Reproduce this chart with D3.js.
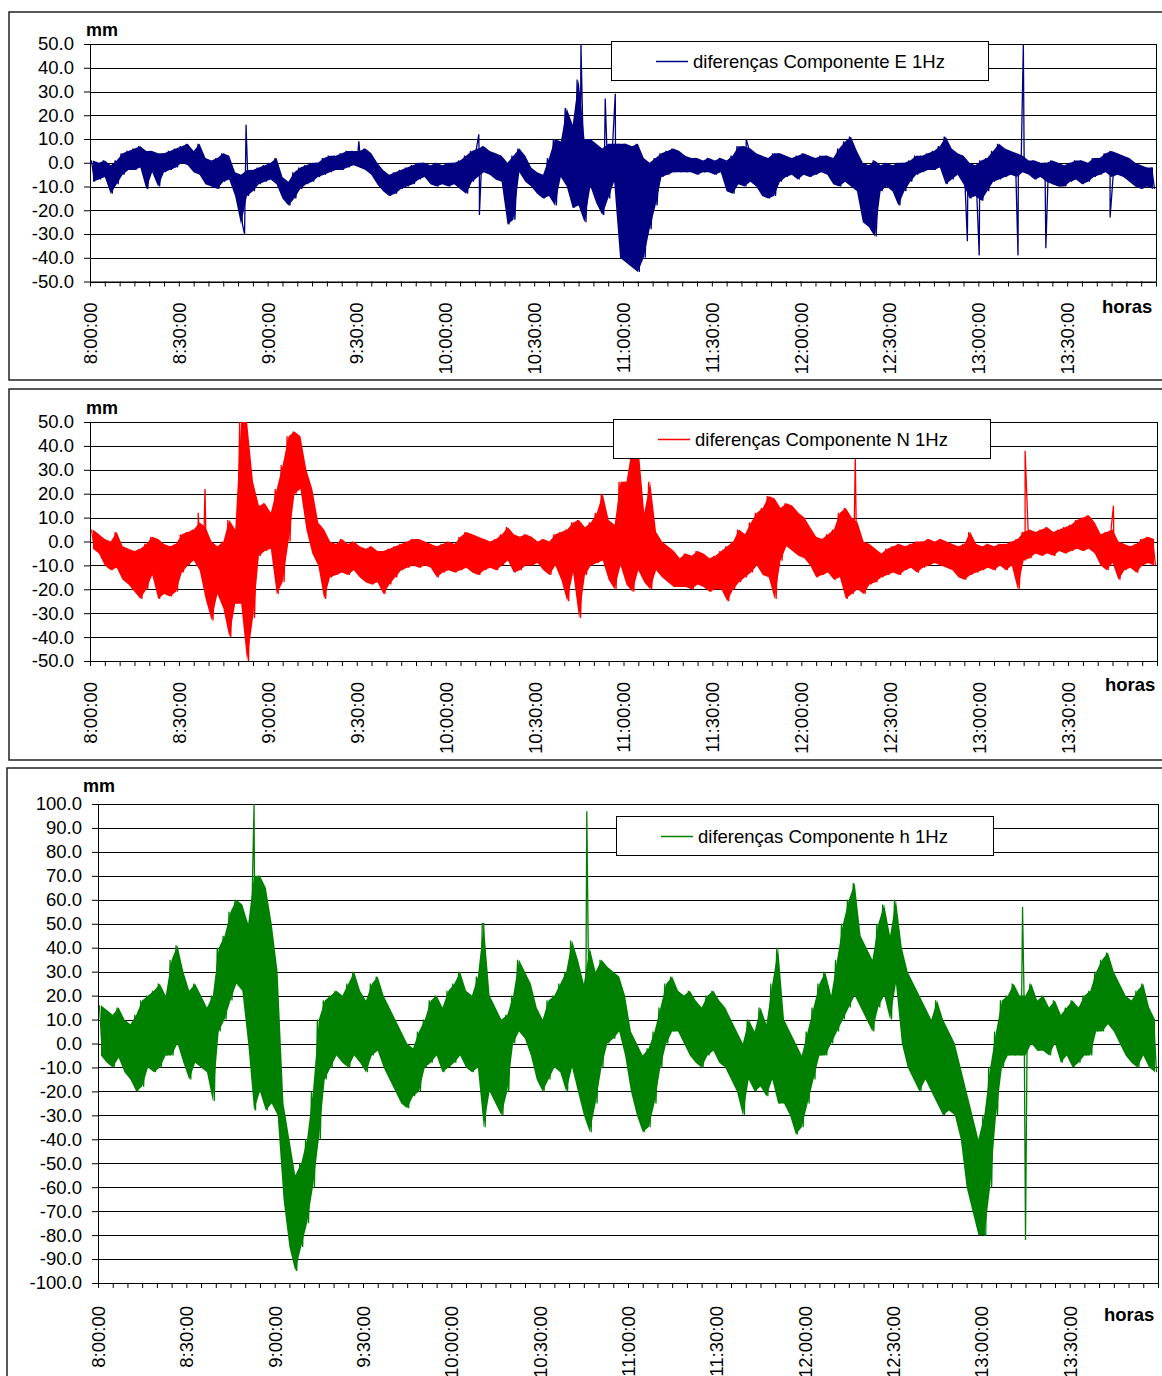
<!DOCTYPE html>
<html lang="pt">
<head>
<meta charset="utf-8">
<title>diferenças 1Hz</title>
<script src="https://cdn.jsdelivr.net/npm/d3@7"></script>
<style>
  body { margin: 0; background: #fff; }
  svg text { font-family: "Liberation Sans", Arial, sans-serif; }
</style>
</head>
<body>
<div id="chart"></div>
<script>
// each series is read off the plot as an envelope: high and low value per 2 minute bin,
// starting at 8:00:00, plus isolated spikes as [minute after 8:00, value]
var binMin = 2;

// Componente E (mm)
var eHigh = [1,0,1,-1,1,4,5,6,7,5,
  5,4,4,5,6,7,8,5,8,2,
  1,2,4,3,-4,-5,-3,-3,-2,-1,
  0,2,-6,-8,-4,-2,-1,0,0,2,
  3,3,4,5,5,5,6,4,0,-3,
  -5,-4,-3,-2,-1,0,0,-1,0,-1,
  0,0,1,3,5,6,7,5,4,3,
  0,3,6,3,-2,-4,-5,2,10,9,
  23,16,35,10,10,8,6,8,8,8,
  8,7,8,2,0,2,4,5,6,5,
  3,2,2,1,2,1,2,1,3,7,
  7,6,4,3,2,4,4,3,2,3,
  4,3,2,3,3,2,6,9,11,5,
  0,-1,1,-1,0,-1,0,0,1,3,
  3,4,5,7,11,6,4,3,0,-1,
  1,2,5,8,6,5,4,3,1,1,
  0,0,1,0,-1,0,1,1,0,2,
  2,4,5,4,3,2,0,-1,-2,-2];
var eLow = [-8,-7,-6,-13,-9,-5,-3,-3,-2,-11,
  -4,-10,-4,-3,-2,0,-1,-4,-5,-9,
  -10,-11,-8,-7,-14,-26,-14,-12,-9,-8,
  -7,-9,-15,-18,-15,-11,-9,-8,-6,-5,
  -4,-3,-3,-2,-1,-2,-3,-5,-9,-12,
  -14,-13,-11,-10,-9,-7,-6,-9,-10,-9,
  -10,-9,-11,-13,-8,-6,-4,-5,-7,-8,
  -26,-24,-4,-8,-10,-13,-15,-14,-18,-6,
  -10,-19,-18,-25,-10,-17,-22,-15,-8,-40,
  -42,-44,-46,-40,-28,-18,-6,-5,-4,-4,
  -4,-4,-5,-4,-4,-5,-4,-12,-13,-9,
  -10,-8,-10,-14,-15,-14,-8,-6,-5,-7,
  -5,-6,-5,-4,-5,-9,-10,-8,-10,-12,
  -25,-27,-31,-12,-10,-12,-18,-12,-8,-5,
  -4,-3,-3,-2,-9,-7,-5,-9,-15,-14,
  -16,-12,-8,-7,-6,-5,-6,-4,-5,-7,
  -6,-8,-9,-10,-10,-8,-7,-9,-8,-6,
  -5,-4,-6,-5,-6,-8,-10,-11,-10,-11];
var eSpikes = [[52.2,-30],[52.7,16],[90.8,9],[131.3,12],[131.5,-22],[165.8,50],[174,27],[177.4,29],
  [221.6,10],[296.3,-33],[300.3,-39],[313.4,-39],[315.2,50],[322.8,-36],[344.5,-23]];

// Componente N (mm)
var nHigh = [5,3,1,0,4,-2,-3,-4,-3,-1,
  2,1,-1,-2,-1,3,4,5,8,6,
  0,-2,0,9,5,50,50,25,15,16,
  12,22,32,44,46,44,30,22,8,5,
  0,-1,1,-1,0,-2,-3,-2,-4,-4,
  -3,-2,-1,0,1,1,0,-1,-2,-1,
  0,-1,2,4,3,2,1,0,1,3,
  6,3,2,3,2,0,1,0,3,4,
  5,8,9,6,8,12,20,9,7,25,
  25,40,40,12,25,4,0,-2,-4,-7,
  -5,-6,-4,-5,-7,-6,-4,-2,0,5,
  3,8,12,14,19,18,14,16,15,12,
  10,6,2,1,3,5,12,14,10,8,
  0,-1,-3,-5,-3,-2,-1,-2,-1,0,
  0,1,0,1,0,-1,-2,-1,4,-1,
  -2,-1,-2,-1,-1,0,1,4,5,4,
  5,6,4,5,6,7,9,10,11,8,
  3,4,5,0,-1,-2,-1,1,2,1];
var nLow = [-3,-5,-10,-12,-11,-16,-18,-21,-24,-20,
  -14,-24,-22,-23,-21,-13,-10,-8,-12,-24,
  -33,-22,-28,-40,-26,-26,-50,-32,-6,-4,
  -3,-22,-17,0,20,22,5,-5,-10,-24,
  -15,-14,-13,-14,-12,-15,-17,-18,-17,-22,
  -18,-15,-12,-11,-10,-11,-10,-11,-15,-13,
  -12,-13,-12,-11,-13,-14,-12,-11,-12,-10,
  -8,-13,-12,-10,-10,-9,-12,-14,-10,-16,
  -25,-13,-32,-14,-10,-9,-8,-16,-20,-10,
  -18,-21,-12,-17,-20,-12,-15,-17,-19,-19,
  -19,-20,-18,-19,-21,-20,-20,-25,-20,-17,
  -15,-13,-10,-14,-15,-24,-8,-2,-4,-6,
  -7,-10,-15,-14,-13,-16,-15,-24,-22,-20,
  -22,-18,-17,-15,-14,-13,-14,-12,-11,-13,
  -11,-10,-9,-10,-11,-12,-15,-16,-14,-13,
  -12,-11,-12,-10,-12,-10,-20,-8,-7,-5,
  -6,-5,-6,-4,-5,-4,-3,-4,-3,-5,
  -10,-12,-9,-16,-12,-11,-13,-10,-9,-10];
var nSpikes = [[36.5,12],[38.8,22],[258.2,35],[315.5,38],[345.3,15]];

// Componente h (mm)
var hHigh = [16,14,12,15,10,8,12,18,20,22,
  25,20,35,41,30,22,25,20,15,20,
  40,45,55,60,58,50,70,70,65,50,
  30,-25,-40,-55,-50,-40,-20,10,18,20,
  22,20,25,30,22,18,25,28,20,15,
  10,5,0,-2,5,10,18,20,15,22,
  25,30,22,20,28,50,20,15,10,12,
  20,35,30,25,15,10,18,20,25,30,
  43,35,25,40,30,35,32,30,28,20,
  5,0,-5,-2,5,15,25,28,22,20,
  22,18,15,20,22,18,15,10,5,0,
  10,5,15,8,25,40,10,5,0,-5,
  5,15,25,30,20,35,50,60,67,45,
  40,35,50,58,45,60,40,30,25,20,
  15,10,18,10,5,0,-10,-20,-30,-40,
  -30,-10,5,18,20,25,20,20,25,18,
  20,15,18,12,15,18,15,20,22,30,
  35,38,30,25,20,18,22,25,15,10];
var hLow = [-5,-8,-10,-6,-12,-15,-20,-18,-10,-12,
  -10,-5,-5,0,-8,-15,-8,-10,-12,-24,
  5,10,18,25,22,0,-28,-20,-28,-25,
  -30,-65,-85,-95,-85,-75,-60,-40,-15,-10,
  -5,-8,-10,-5,-8,-12,-5,-3,-10,-15,
  -20,-25,-27,-22,-20,-10,-8,-5,-12,-10,
  -8,-5,-10,-12,-10,-35,-20,-25,-30,-20,
  0,5,2,-5,-15,-20,-15,-10,-12,-20,
  -10,-20,-30,-37,-25,-10,0,2,5,-5,
  -20,-30,-37,-35,-25,-10,0,5,5,0,
  -5,-8,-10,-5,-3,-8,-10,-15,-20,-30,
  -15,-20,-18,-22,-15,-25,-25,-30,-38,-35,
  -25,-15,-5,-5,0,5,10,15,20,15,
  10,5,15,20,10,25,0,-10,-15,-20,
  -15,-20,-25,-30,-28,-30,-40,-60,-70,-80,
  -80,-60,-30,-10,-5,-5,-5,-5,0,-3,
  -3,-5,0,-8,-5,-10,-8,-5,-5,5,
  5,8,5,0,-5,-8,-10,-5,-10,-12];
var hSpikes = [[53,100],[131,50],[166,97],[301,-80],[314,57],[315,-82]];

var width = 1162, height = 1376;

var panels = [
  {hi: eHigh, lo: eLow, spikes: eSpikes, color: "#000080", name: "diferenças Componente E 1Hz", yMax: 50,
   frame: [9, 12, 380], plot: [90, 1156, 44, 281.5], legend: [611, 41], mm: [86, 36], horas: [1102, 313]},
  {hi: nHigh, lo: nLow, spikes: nSpikes, color: "#ff0000", name: "diferenças Componente N 1Hz", yMax: 50,
   frame: [9, 389, 760], plot: [90, 1157, 422, 661], legend: [613, 419], mm: [86, 414], horas: [1105, 691]},
  {hi: hHigh, lo: hLow, spikes: hSpikes, color: "#008000", name: "diferenças Componente h 1Hz", yMax: 100,
   frame: [7, 768, 1400], plot: [98, 1158, 804, 1283], legend: [616, 816], mm: [83, 792], horas: [1104, 1321]}
];

var svg = d3.select("#chart").append("svg").attr("width", width).attr("height", height);

function timeLabel(m) {
  return (8 + Math.floor(m / 60)) + ":" + d3.format("02")(m % 60) + ":00";
}

function drawPanel(p, k) {
  var x = d3.scaleLinear().domain([0, 360]).range([p.plot[0], p.plot[1]]);
  var y = d3.scaleLinear().domain([-p.yMax, p.yMax]).range([p.plot[3], p.plot[2]]);
  var g = svg.append("g");

  g.append("rect")
    .attr("x", p.frame[0]).attr("y", p.frame[1])
    .attr("width", 1300).attr("height", p.frame[2] - p.frame[1])
    .attr("fill", "#fff").attr("stroke", "#222").attr("stroke-width", 1.5);

  // horizontal gridlines every 10 mm
  var yTicks = d3.range(-p.yMax, p.yMax + 1, 10);
  g.selectAll("line.grid").data(yTicks).enter().append("line")
    .attr("x1", p.plot[0]).attr("x2", p.plot[1])
    .attr("y1", function(d) { return Math.round(y(d)) + 0.5; })
    .attr("y2", function(d) { return Math.round(y(d)) + 0.5; })
    .attr("stroke", "#000").attr("stroke-width", 1);
  // right edge of the plot area
  g.append("line")
    .attr("x1", Math.round(p.plot[1]) + 0.5).attr("x2", Math.round(p.plot[1]) + 0.5)
    .attr("y1", p.plot[2]).attr("y2", p.plot[3])
    .attr("stroke", "#000").attr("stroke-width", 1);

  // clip series to the plot area
  svg.append("clipPath").attr("id", "clip" + k).append("rect")
    .attr("x", p.plot[0]).attr("y", p.plot[2])
    .attr("width", p.plot[1] - p.plot[0]).attr("height", p.plot[3] - p.plot[2]);

  var bins = p.hi.map(function(h, i) { return {t: i * binMin + binMin / 2, hi: h, lo: p.lo[i]}; });

  // zigzag between the high and low of every bin, spikes merged in by time
  var pts = [];
  bins.forEach(function(b) {
    pts.push([b.t - binMin / 4, b.hi]);
    pts.push([b.t + binMin / 4, b.lo]);
  });
  p.spikes.forEach(function(s) { pts.push(s); });
  pts.sort(function(a, b) { return a[0] - b[0]; });

  var series = g.append("g").attr("clip-path", "url(#clip" + k + ")");
  series.append("path").datum(bins)
    .attr("fill", p.color)
    .attr("d", d3.area()
      .x(function(d) { return x(d.t); })
      .y0(function(d) { return y(d.lo); })
      .y1(function(d) { return y(d.hi); }));
  series.append("path").datum(pts)
    .attr("fill", "none").attr("stroke", p.color).attr("stroke-width", 1.3)
    .attr("d", d3.line()
      .x(function(d) { return x(d[0]); })
      .y(function(d) { return y(d[1]); }));

  // y axis
  var yAxis = g.append("g").attr("transform", "translate(" + p.plot[0] + ",0)")
    .call(d3.axisLeft(y).tickValues(yTicks).tickSize(6).tickSizeOuter(0).tickPadding(10)
      .tickFormat(function(d) { return d.toFixed(1); }));
  yAxis.selectAll("text").attr("font-size", "18.5px").attr("font-family", null).attr("fill", "#000");
  yAxis.selectAll("line, path").attr("stroke", "#000");

  // x axis, ticks every 5 minutes, labels every 30
  var xAxis = g.append("g").attr("transform", "translate(0," + p.plot[3] + ")")
    .call(d3.axisBottom(x).tickValues(d3.range(0, 361, 5)).tickSize(5).tickSizeOuter(0)
      .tickFormat(function(m) { return (m % 30 === 0 && m < 360) ? timeLabel(m) : ""; }));
  xAxis.selectAll("line, path").attr("stroke", "#000");
  xAxis.selectAll("text")
    .attr("font-size", "18.5px").attr("font-family", null).attr("fill", "#000")
    .attr("transform", "rotate(-90)")
    .attr("x", k === 2 ? -23 : -21).attr("y", 0).attr("dy", "0.35em")
    .attr("text-anchor", "end");

  g.append("text").attr("x", p.mm[0]).attr("y", p.mm[1])
    .attr("font-size", "18px").attr("font-weight", "bold").text("mm");
  g.append("text").attr("x", p.horas[0]).attr("y", p.horas[1])
    .attr("font-size", "18.5px").attr("font-weight", "bold").text("horas");

  // legend
  var lg = g.append("g").attr("transform", "translate(" + p.legend[0] + "," + p.legend[1] + ")");
  lg.append("rect").attr("x", 0.5).attr("y", 0.5).attr("width", 377).attr("height", 39)
    .attr("fill", "#fff").attr("stroke", "#000").attr("stroke-width", 1);
  lg.append("line").attr("x1", 45).attr("x2", 77).attr("y1", 20.5).attr("y2", 20.5)
    .attr("stroke", p.color).attr("stroke-width", 1.5);
  lg.append("text").attr("x", 82).attr("y", 26.5).attr("font-size", "18.5px").text(p.name);
}

panels.forEach(drawPanel);
</script>
</body>
</html>
